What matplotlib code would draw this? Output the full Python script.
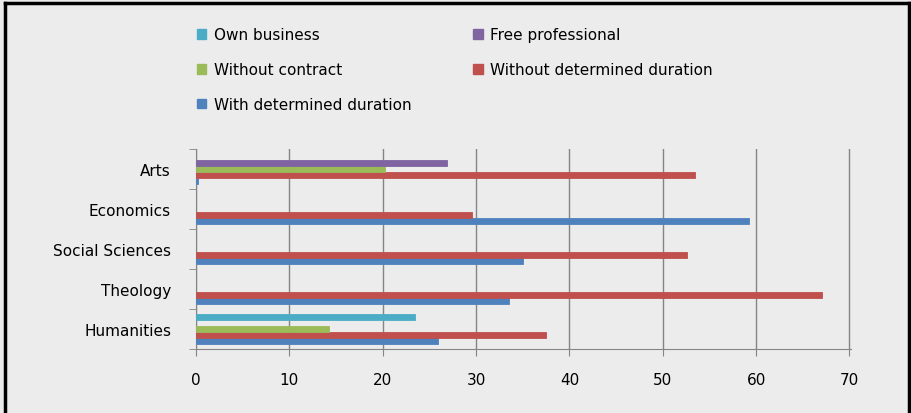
import matplotlib.pyplot as plt
import numpy as np
from matplotlib.lines import Line2D

# categories, bottom to top
categories = ["Humanities", "Theology", "Social Sciences", "Economics", "Arts"]

# series values (per category, same order as categories)
with_determined = [25.9, 33.5, 35.0, 59.2, 0.2]
without_determined = [37.5, 67.1, 52.6, 29.6, 53.4]
without_contract = [14.2, 0, 0, 0, 20.2]
free_professional = [0, 0, 0, 0, 26.9]
own_business = [23.5, 0, 0, 0, 0]

series = [
    ("With determined duration", with_determined, "#4F81BD"),
    ("Without determined duration", without_determined, "#C0504D"),
    ("Without contract", without_contract, "#9BBB59"),
    ("Free professional", free_professional, "#8064A2"),
    ("Own business", own_business, "#4BACC6"),
]
# legend is filled column by column, so this gives rows:
# Own business | Free professional / Without contract | Without ... / With ...
legend_order = ["Own business", "Without contract", "With determined duration",
                "Free professional", "Without determined duration"]

bg = "#ececec"
fig = plt.figure(figsize=(9.12, 4.14), dpi=100, facecolor=bg)
ax = fig.add_axes([0.215, 0.155, 0.718, 0.483])
ax.set_facecolor(bg)

y = np.arange(len(categories))
bar_h = 0.15
handles = {}
for i, (name, vals, col) in enumerate(series):
    offs = (i - 2) * bar_h
    # drop zero values so no stub is drawn
    ys = [yy + offs for yy, v in zip(y, vals) if v > 0]
    vs = [v for v in vals if v > 0]
    ax.barh(ys, vs, height=bar_h, color=col, edgecolor=col, linewidth=0.6, zorder=3)
    handles[name] = plt.Rectangle((0, 0), 1, 1, color=col)

ax.set_xlim(0, 70.15)
ax.set_ylim(-0.5, len(categories) - 0.5)
ax.set_xticks(np.arange(0, 71, 10))
ax.grid(axis="x", color="#858585", linewidth=1.0, zorder=0)

ax.set_yticks(y)
ax.set_yticklabels(categories, fontsize=11, family="DejaVu Sans")
ax.set_yticks(np.arange(-0.5, len(categories), 1), minor=True)
ax.tick_params(axis="y", which="major", length=0, pad=18)
ax.tick_params(axis="y", which="minor", length=5, color="#858585")
ax.tick_params(axis="x", length=5, color="#858585", labelsize=11, pad=12)

for s in ["top", "right"]:
    ax.spines[s].set_visible(False)
ax.spines["left"].set_color("#858585")
ax.spines["bottom"].set_color("#858585")

fig.legend([handles[n] for n in legend_order], legend_order,
           loc="upper left", bbox_to_anchor=(0.201, 0.965), ncol=2,
           frameon=False, fontsize=11, handlelength=0.6, handleheight=0.6,
           handletextpad=0.5, labelspacing=1.3, columnspacing=4.05)

# black frame around the picture
for xs, ys in [([0.006, 0.006], [0, 0.99]), ([0.006, 0.997], [0.99, 0.99]),
               ([0.997, 0.997], [0, 0.99])]:
    fig.add_artist(Line2D(xs, ys, color="black", linewidth=2.5, transform=fig.transFigure))

fig.savefig("out.png", dpi=100, facecolor=bg)
